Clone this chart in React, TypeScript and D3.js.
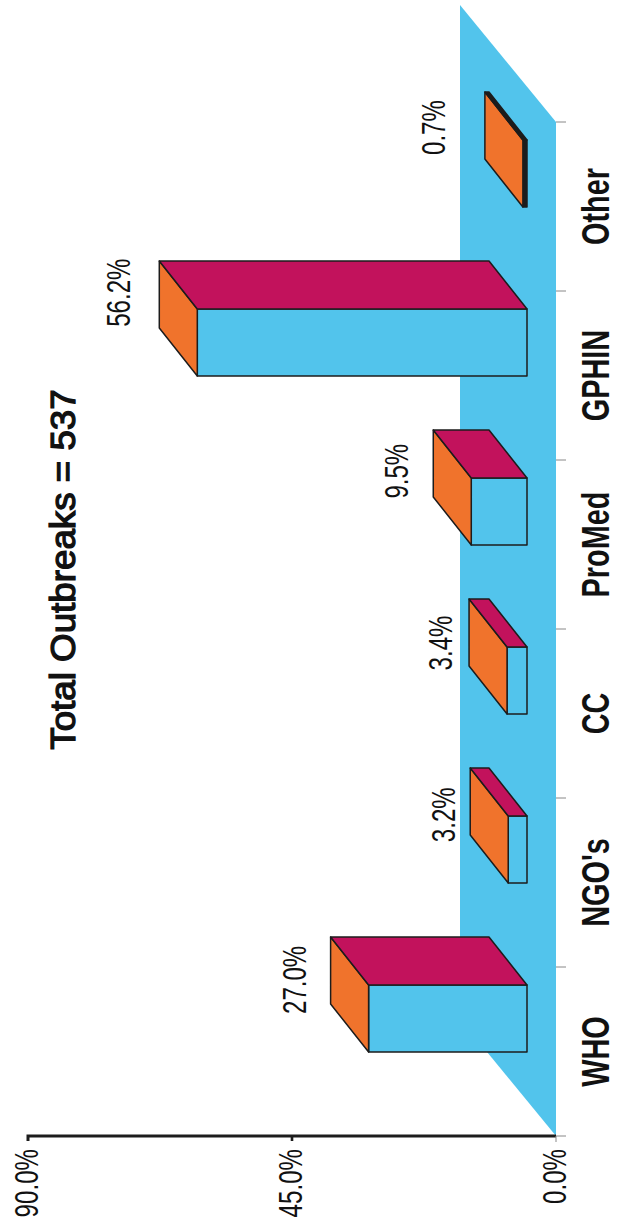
import React from "react";
import * as d3 from "d3";

const categories = ["WHO", "NGO's", "CC", "ProMed", "GPHIN", "Other"];
const values = [27.0, 3.2, 3.4, 9.5, 56.2, 0.7];
const valueLabels = ["27.0%", "3.2%", "3.4%", "9.5%", "56.2%", "0.7%"];
const axisTicks = [0, 45, 90];
const axisTickLabels = ["0.0%", "45.0%", "90.0%"];
const title = "Total Outbreaks = 537";

const W = 617, H = 1228;
const BLUE = "#52c4ec", ORANGE = "#f0732c", MAGENTA = "#c2125c", INK = "#1c1c1c";
const x0 = 556, x90 = 28, axisY = 1136, floorTop = 122;
const floorDX = -96, floorDY = -117;
const baseInset = -29;
const labelGapX = [36, 27, 28, 37, 41, 51];

const x = d3.scaleLinear().domain([0, 90]).range([x0, x90]);
const band = d3.scaleBand<string>().domain(categories).range([axisY, floorTop]);
const pts = (p: number[][]) => p.map(q => q.join(",")).join(" ");
const FONT = "'Liberation Sans', Arial, sans-serif";

function VText({ x, y, size, weight, sx = 1, anchor = "middle", extra, children }: any) {
  return (
    <text transform={`translate(${x},${y}) rotate(-90) scale(${sx},1)`} textAnchor={anchor} dominantBaseline="central"
      fontFamily={FONT} fontSize={size} fontWeight={weight} fill="#111" {...extra}>{children}</text>
  );
}

export default function App() {
  const dx = -38, dy = -48;
  const cx = (c: string) => (band(c) as number) + band.bandwidth() / 2;
  return (
    <svg width={W} height={H} style={{ position: "absolute", left: 0, top: 0, background: "#fff" }}>
      <polygon fill={BLUE} points={pts([[x0, axisY], [x0, floorTop], [x0 + floorDX, floorTop + floorDY], [x0 + floorDX, axisY + floorDY]])} />
      {band.domain().slice(1).concat(["__end"]).map((c, i) => {
        const y = c === "__end" ? floorTop : (band(c) as number) + band.bandwidth();
        return <line key={i} x1={x0} x2={x0 + 10} y1={y} y2={y} stroke="#888" strokeWidth={1} />;
      })}
      {categories.map((c, i) => {
        const len = x(0) - x(values[i]);
        const xb = x0 + baseInset, xt = xb - len;
        const yb = cx(c) + 0.5, yt = yb - 67;
        const thin = len < 6;
        return (
          <g key={c} stroke={INK} strokeWidth={1.5} strokeLinejoin="round">
            <polygon fill={thin ? INK : BLUE} points={pts([[xt, yb], [xt, yt], [xb, yt], [xb, yb]])} />
            <polygon fill={ORANGE} points={pts([[xt, yb], [xt, yt], [xt + dx, yt + dy], [xt + dx, yb + dy]])} />
            <polygon fill={thin ? INK : MAGENTA} points={pts([[xt, yt], [xt + dx, yt + dy], [xb + dx, yt + dy], [xb, yt]])} />
          </g>
        );
      })}
      {categories.map((c, i) => {
        const len = x(0) - x(values[i]);
        const backTop = x0 + baseInset - len + dx;
        return (
          <g key={c + "t"}>
            <VText x={595.5} y={cx(c)} size={38} weight="bold" sx={0.76}>{c}</VText>
            <VText x={backTop - labelGapX[i]} y={cx(c) - 37.5 - 2.8 * i} size={33} sx={0.73} anchor="start">{valueLabels[i]}</VText>
          </g>
        );
      })}
      <path d={`M${x90},${axisY + 5}V${axisY}H${x0}`} fill="none" stroke={INK} strokeWidth={3} />
      <line x1={x0} x2={x0} y1={axisY} y2={axisY + 6} stroke="#888" />
      <line x1={x(45)} x2={x(45)} y1={axisY} y2={axisY + 5} stroke={INK} strokeWidth={2.6} />
      <line x1={x0} x2={x0 + 10} y1={axisY} y2={axisY} stroke="#888" />
      {axisTicks.map((t, i) => (
        <VText key={t} x={x(t) - 2} y={1149} size={34} sx={0.71} anchor="end">{axisTickLabels[i]}</VText>
      ))}
      <VText x={63} y={569.5} size={35} sx={1.05} extra={{ stroke: "#111", strokeWidth: 1.3 }}>{title}</VText>
    </svg>
  );
}
